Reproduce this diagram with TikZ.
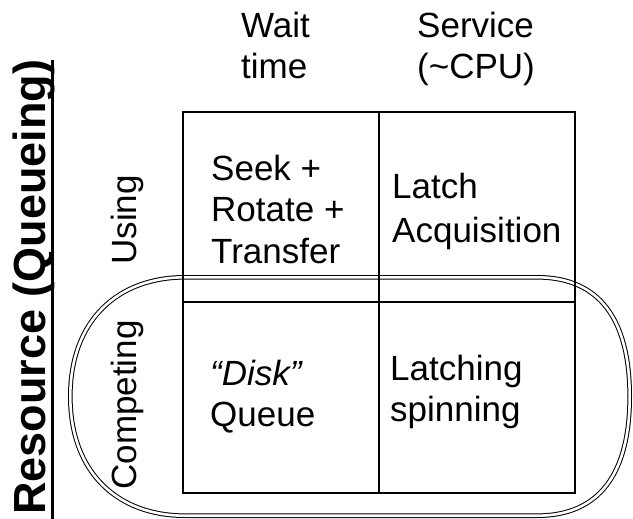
\documentclass[tikz,border=0pt]{standalone}
\usepackage{fontspec}
\setmainfont{Liberation Sans}
\newcommand\cellfont{\fontsize{35}{42}\selectfont}
\newcommand\rowsof[1]{\begin{tabular}[t]{@{}l@{}}#1\end{tabular}}
\begin{document}
\begin{tikzpicture}[x=1pt,y=-1pt,
  txt/.style={anchor=base west, inner sep=0pt, font=\cellfont},
  vlabel/.style={rotate=90, inner sep=0pt, font=\cellfont},
  gridline/.style={line width=1.4pt},
  divider/.style={line width=2pt},
  ring/.style={double, double distance=2.6pt, line width=1pt}]
\useasboundingbox[fill=white] (0,0) rectangle (633,519);

% competing ring
\coordinate (rt1) at (185,277.3);
\coordinate (rt2) at (537,277.3);
\coordinate (rr)  at (629.7,396.5);
\coordinate (rb2) at (537,515.7);
\coordinate (rb1) at (185,515.7);
\coordinate (rl)  at (70.3,396.5);
\draw[ring] (rt1) -- (rt2)
  .. controls (600,277.3) and (629.7,320) .. (rr)
  .. controls (629.7,473) and (600,515.7) .. (rb2)
  -- (rb1)
  .. controls (118,515.7) and (70.3,473) .. (rl)
  .. controls (70.3,320) and (118,277.3) .. (rt1) -- cycle;

% grid
\coordinate (gnw) at (183,112);
\coordinate (gse) at (575,493);
\coordinate (mtop) at (379,112);
\coordinate (mbot) at (379,493);
\coordinate (dl) at (183,302);
\coordinate (dr) at (575,302);
\draw[gridline] (gnw) rectangle (gse);
\draw[divider] (mtop) -- (mbot);
\draw[divider] (dl) -- (dr);

% headers
\node[txt, font=\fontsize{35}{41}\selectfont] (wait) at (241,38) {\rowsof{Wait\\time}};
\node[txt, font=\fontsize{35}{41}\selectfont] (serv) at (417,38) {\rowsof{Service\\(\textasciitilde CPU)}};

% cells
\node[txt] (seek) at (211,180) {\rowsof{Seek +\\Rotate +\\Transfer}};
\node[txt, font=\fontsize{35}{44}\selectfont] (latch) at (392,198) {\rowsof{Latch\\Acquisition}};
\node[txt, font=\fontsize{35}{41}\selectfont] (disk) at (210,385) {\rowsof{\textit{“Disk”}\\Queue}};
\node[txt, font=\fontsize{35}{41}\selectfont] (spin) at (390,380) {\rowsof{Latching\\spinning}};

% row labels
\node[vlabel] (using) at (127.5,220) {Using};
\node[vlabel] (comp) at (127.5,405) {Competing};

% axis title
\node[rotate=90, anchor=base west, inner sep=0pt,
      font=\fontsize{45}{50}\selectfont\bfseries] (res) at (45.5,515) {Resource (Queueing)};
\draw[line width=3pt] ([xshift=6.5pt,yshift=-6pt]res.base west) -- ([xshift=6.5pt]res.base east);
\end{tikzpicture}
\end{document}
